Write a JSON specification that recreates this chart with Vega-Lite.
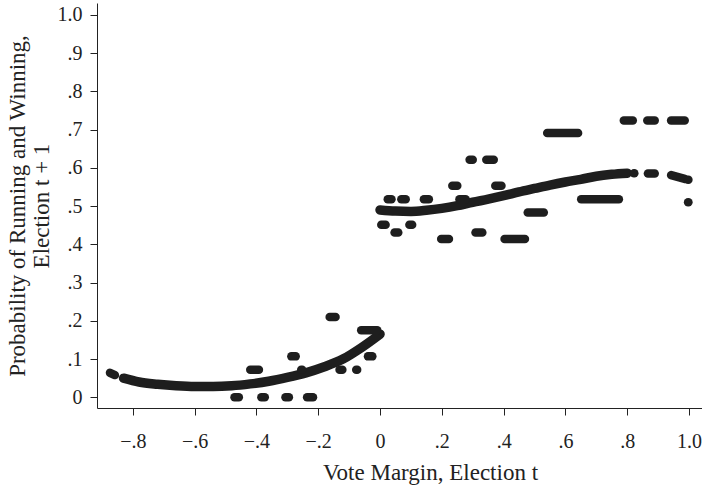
{
  "$schema": "https://vega.github.io/schema/vega-lite/v6.json",
  "width": 605,
  "height": 405,
  "autosize": "none",
  "padding": {"left": 97, "top": 3, "right": 0, "bottom": 79},
  "background": "white",
  "config": {
    "view": {"stroke": null},
    "font": "Liberation Serif",
    "axis": {
      "grid": false,
      "domainColor": "#222",
      "domainWidth": 1,
      "tickColor": "#222",
      "tickWidth": 1,
      "tickSize": 7,
      "labelFont": "Liberation Serif",
      "labelFontSize": 20,
      "labelColor": "#222",
      "titleFont": "Liberation Serif",
      "titleFontSize": 23,
      "titleFontWeight": "normal",
      "titleColor": "#222"
    }
  },
  "datasets": {
    "curve": [
      {"side": "left", "x": -0.83, "y": 0.050},
      {"side": "left", "x": -0.78, "y": 0.040},
      {"side": "left", "x": -0.72, "y": 0.034},
      {"side": "left", "x": -0.66, "y": 0.030},
      {"side": "left", "x": -0.60, "y": 0.028},
      {"side": "left", "x": -0.54, "y": 0.028},
      {"side": "left", "x": -0.48, "y": 0.030},
      {"side": "left", "x": -0.42, "y": 0.035},
      {"side": "left", "x": -0.36, "y": 0.042},
      {"side": "left", "x": -0.30, "y": 0.052},
      {"side": "left", "x": -0.24, "y": 0.064},
      {"side": "left", "x": -0.18, "y": 0.080},
      {"side": "left", "x": -0.12, "y": 0.100},
      {"side": "left", "x": -0.06, "y": 0.130},
      {"side": "left", "x": 0.0, "y": 0.165},
      {"side": "right", "x": 0.0, "y": 0.490},
      {"side": "right", "x": 0.05, "y": 0.487},
      {"side": "right", "x": 0.10, "y": 0.486},
      {"side": "right", "x": 0.15, "y": 0.489},
      {"side": "right", "x": 0.20, "y": 0.494},
      {"side": "right", "x": 0.25, "y": 0.501},
      {"side": "right", "x": 0.30, "y": 0.510},
      {"side": "right", "x": 0.35, "y": 0.518},
      {"side": "right", "x": 0.40, "y": 0.527},
      {"side": "right", "x": 0.45, "y": 0.537},
      {"side": "right", "x": 0.50, "y": 0.546},
      {"side": "right", "x": 0.55, "y": 0.555},
      {"side": "right", "x": 0.60, "y": 0.563},
      {"side": "right", "x": 0.65, "y": 0.570},
      {"side": "right", "x": 0.70, "y": 0.578},
      {"side": "right", "x": 0.75, "y": 0.583},
      {"side": "right", "x": 0.80, "y": 0.586}
    ],
    "bins": [
      {"x": -0.874, "x2": -0.858, "y": 0.064, "y2": 0.058},
      {"x": 0.822, "x2": 0.823, "y": 0.586, "y2": 0.586},
      {"x": 0.867, "x2": 0.889, "y": 0.585, "y2": 0.585},
      {"x": 0.942, "x2": 0.986, "y": 0.581, "y2": 0.571},
      {"x": 0.997, "x2": 0.998, "y": 0.569, "y2": 0.569},
      {"x": -0.471, "x2": -0.457, "y": 0.0, "y2": 0.0},
      {"x": -0.384, "x2": -0.373, "y": 0.0, "y2": 0.0},
      {"x": -0.306, "x2": -0.295, "y": 0.0, "y2": 0.0},
      {"x": -0.236, "x2": -0.217, "y": 0.0, "y2": 0.0},
      {"x": -0.420, "x2": -0.392, "y": 0.072, "y2": 0.072},
      {"x": -0.255, "x2": -0.252, "y": 0.072, "y2": 0.072},
      {"x": -0.131, "x2": -0.122, "y": 0.072, "y2": 0.072},
      {"x": -0.077, "x2": -0.074, "y": 0.072, "y2": 0.072},
      {"x": -0.287, "x2": -0.273, "y": 0.107, "y2": 0.107},
      {"x": -0.039, "x2": -0.025, "y": 0.107, "y2": 0.107},
      {"x": -0.163, "x2": -0.144, "y": 0.210, "y2": 0.210},
      {"x": -0.061, "x2": -0.009, "y": 0.175, "y2": 0.175},
      {"x": 0.025, "x2": 0.037, "y": 0.518, "y2": 0.518},
      {"x": 0.069, "x2": 0.083, "y": 0.518, "y2": 0.518},
      {"x": 0.142, "x2": 0.158, "y": 0.518, "y2": 0.518},
      {"x": 0.257, "x2": 0.277, "y": 0.518, "y2": 0.518},
      {"x": 0.651, "x2": 0.773, "y": 0.518, "y2": 0.518},
      {"x": 0.004, "x2": 0.018, "y": 0.451, "y2": 0.451},
      {"x": 0.095, "x2": 0.104, "y": 0.451, "y2": 0.451},
      {"x": 0.047, "x2": 0.059, "y": 0.431, "y2": 0.431},
      {"x": 0.309, "x2": 0.331, "y": 0.431, "y2": 0.431},
      {"x": 0.198, "x2": 0.223, "y": 0.414, "y2": 0.414},
      {"x": 0.403, "x2": 0.469, "y": 0.414, "y2": 0.414},
      {"x": 0.478, "x2": 0.530, "y": 0.483, "y2": 0.483},
      {"x": 0.234, "x2": 0.250, "y": 0.553, "y2": 0.553},
      {"x": 0.373, "x2": 0.393, "y": 0.553, "y2": 0.553},
      {"x": 0.290, "x2": 0.300, "y": 0.621, "y2": 0.621},
      {"x": 0.344, "x2": 0.368, "y": 0.621, "y2": 0.621},
      {"x": 0.541, "x2": 0.641, "y": 0.691, "y2": 0.691},
      {"x": 0.789, "x2": 0.818, "y": 0.724, "y2": 0.724},
      {"x": 0.865, "x2": 0.889, "y": 0.724, "y2": 0.724},
      {"x": 0.942, "x2": 0.986, "y": 0.724, "y2": 0.724},
      {"x": 0.997, "x2": 0.998, "y": 0.510, "y2": 0.510}
    ]
  },
  "encoding": {
    "x": {
      "field": "x",
      "type": "quantitative",
      "scale": {"domain": [-0.916, 1.042], "nice": false, "zero": false},
      "axis": {
        "values": [-0.8, -0.6, -0.4, -0.2, 0, 0.2, 0.4, 0.6, 0.8, 1.0],
        "labelExpr": "datum.value == 0 ? '0' : replace(replace(format(datum.value, '.1f'), '0.', '.'), '-', '\u2212')",
        "labelPadding": 16,
        "title": "Vote Margin, Election t",
        "titleX": 333,
        "titleY": 71,
        "titleBaseline": "alphabetic",
        "titleAnchor": "middle"
      }
    },
    "y": {
      "field": "y",
      "type": "quantitative",
      "scale": {"domain": [-0.028, 1.031], "nice": false, "zero": false},
      "axis": {
        "values": [0, 0.1, 0.2, 0.3, 0.4, 0.5, 0.6, 0.7, 0.8, 0.9, 1.0],
        "labelExpr": "datum.value == 0 ? '0' : replace(format(datum.value, '.1f'), '0.', '.')",
        "labelPadding": 8,
        "title": ["Probability of Running and Winning,", "Election t + 1"],
        "titlePadding": 4,
        "titleLineHeight": 24
      }
    }
  },
  "layer": [
    {
      "data": {"name": "curve"},
      "mark": {"type": "line", "color": "#1e1e1e", "strokeWidth": 9.5, "strokeCap": "round", "strokeJoin": "round", "interpolate": "monotone"},
      "encoding": {"detail": {"field": "side"}}
    },
    {
      "data": {"name": "bins"},
      "mark": {"type": "rule", "color": "#1e1e1e", "strokeWidth": 8.5, "strokeCap": "round"},
      "encoding": {
        "x2": {"field": "x2"},
        "y2": {"field": "y2"}
      }
    }
  ]
}
